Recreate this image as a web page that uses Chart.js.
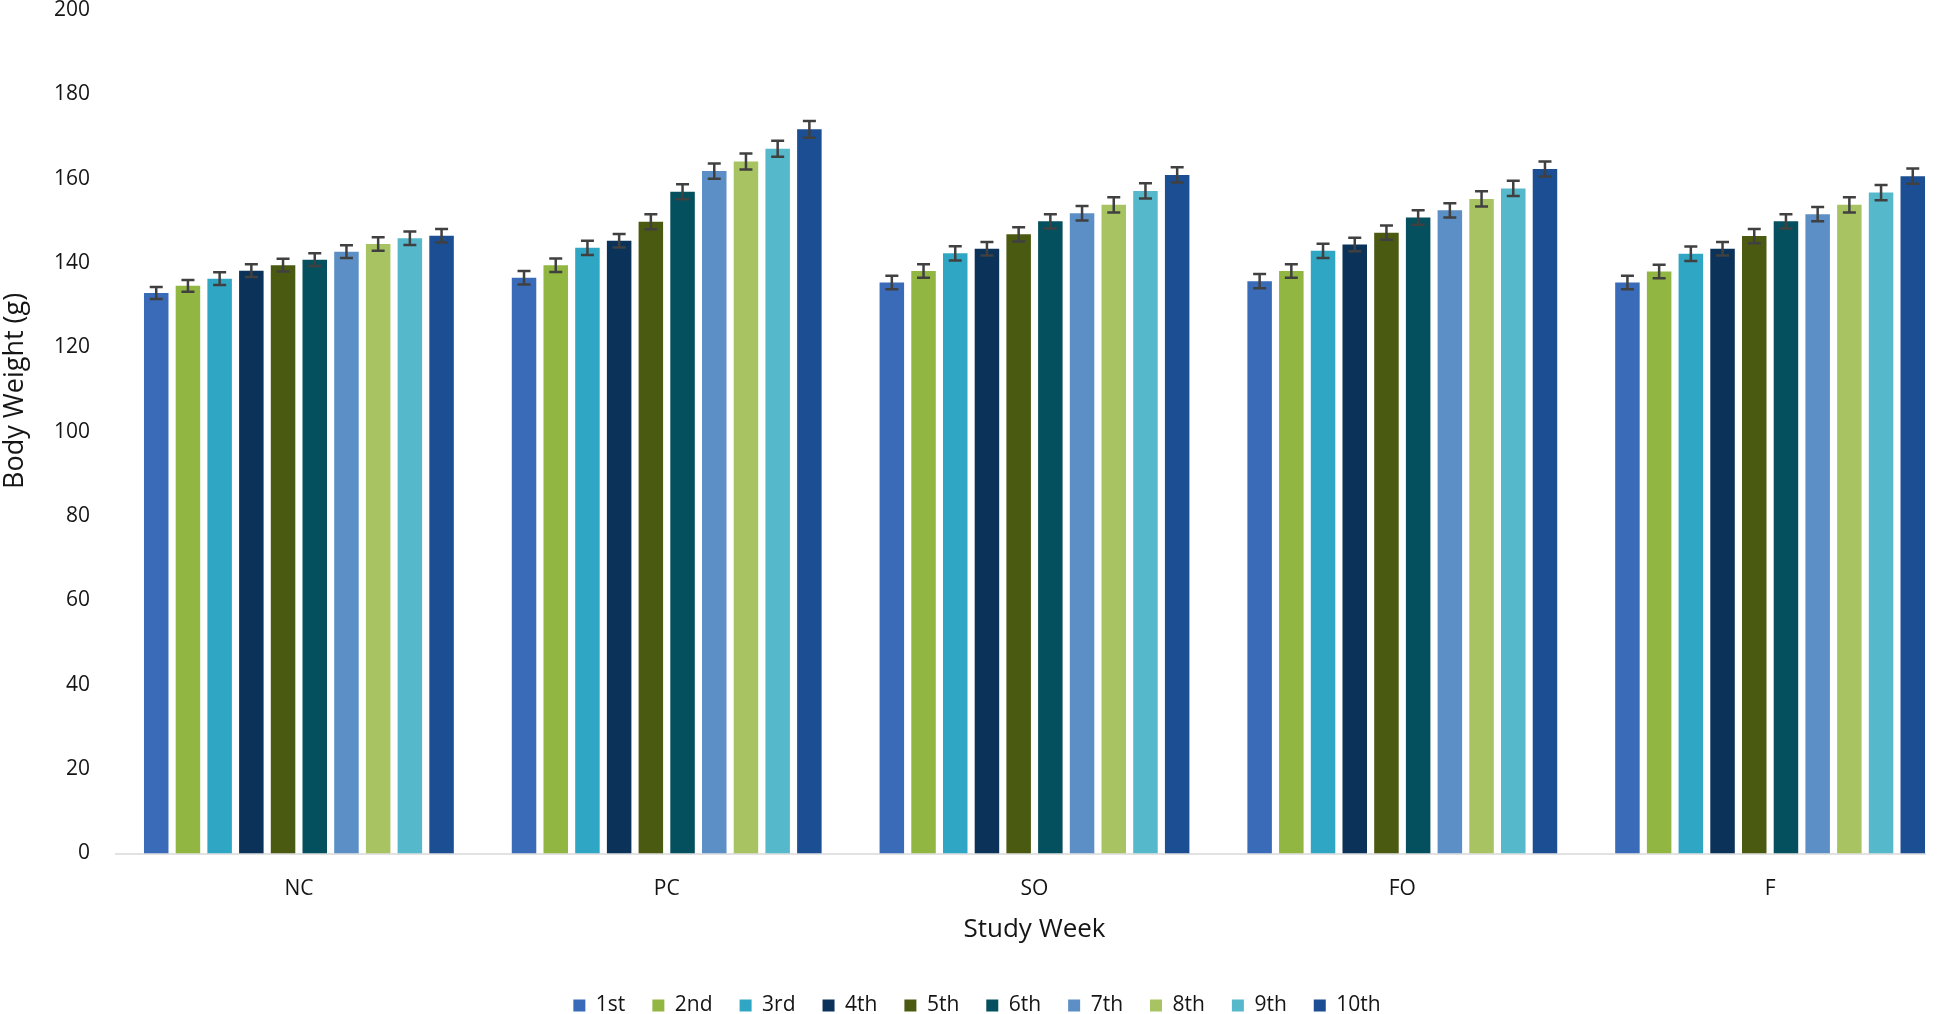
<!DOCTYPE html>
<html>
<head>
<meta charset="utf-8">
<script src="https://cdn.jsdelivr.net/npm/chart.js@4/dist/chart.umd.min.js"></script>
<style>
  html, body { margin: 0; padding: 0; background: #ffffff; }
  #wrap { width: 1954px; height: 1014px; }
</style>
</head>
<body>
<div id="wrap"><canvas id="c" width="1954" height="1014"></canvas></div>
<script>
const groups = ["NC", "PC", "SO", "FO", "F"];
const weeks = ["1st", "2nd", "3rd", "4th", "5th", "6th", "7th", "8th", "9th", "10th"];
const yTicks = [0, 20, 40, 60, 80, 100, 120, 140, 160, 180, 200];
const xTitle = "Study Week";
const yTitle = "Body Weight (g)";

const w1  = [132.9, 136.5, 135.4, 135.7, 135.4];
const w2  = [134.6, 139.5, 138.1, 138.1, 138.0];
const w3  = [136.3, 143.6, 142.3, 142.9, 142.2];
const w4  = [138.2, 145.3, 143.4, 144.4, 143.4];
const w5  = [139.5, 149.8, 146.8, 147.2, 146.4];
const w6  = [140.8, 156.9, 149.9, 150.8, 149.9];
const w7  = [142.7, 161.8, 151.8, 152.5, 151.6];
const w8  = [144.5, 164.1, 153.8, 155.2, 153.8];
const w9  = [145.9, 167.1, 157.1, 157.7, 156.7];
const w10 = [146.5, 171.7, 160.9, 162.3, 160.6];

const e1  = [1.4, 1.6, 1.6, 1.7, 1.6];
const e2  = [1.4, 1.6, 1.6, 1.6, 1.6];
const e3  = [1.5, 1.7, 1.7, 1.7, 1.7];
const e4  = [1.5, 1.6, 1.6, 1.6, 1.6];
const e5  = [1.5, 1.8, 1.7, 1.7, 1.7];
const e6  = [1.5, 1.8, 1.7, 1.7, 1.7];
const e7  = [1.5, 1.8, 1.7, 1.7, 1.7];
const e8  = [1.6, 1.9, 1.8, 1.8, 1.8];
const e9  = [1.6, 1.9, 1.8, 1.8, 1.8];
const e10 = [1.6, 2.0, 1.8, 1.8, 1.8];

const colors = ["#3A6BB8", "#92B642", "#2FA6C3", "#0B3259", "#4A5A10",
                "#05505E", "#5B8FC6", "#A8C462", "#55B9CB", "#1B4E92"];

const values = [w1, w2, w3, w4, w5, w6, w7, w8, w9, w10];
const errors = [e1, e2, e3, e4, e5, e6, e7, e8, e9, e10];

const datasets = weeks.map((w, i) => ({
  label: w,
  data: values[i],
  errors: errors[i],
  backgroundColor: colors[i],
  borderWidth: 0,
  categoryPercentage: 0.862,
  barPercentage: 0.773
}));

const FONT = "'Open Sans', 'Noto Sans', sans-serif";
const TXT = '#151515';

const extras = {
  id: 'extras',
  beforeDatasetsDraw(chart) {
    // x axis line, from the axis start to the right edge of the last bar
    const ctx = chart.ctx;
    const xs = chart.scales.x, ys = chart.scales.y;
    const lastMeta = chart.getDatasetMeta(chart.data.datasets.length - 1);
    const lastBar = lastMeta.data[lastMeta.data.length - 1];
    const xEnd = lastBar.x + lastBar.width / 2 + 1;
    const y0 = ys.getPixelForValue(0);
    ctx.save();
    ctx.strokeStyle = '#d9d9d9';
    ctx.lineWidth = 1.5;
    ctx.beginPath();
    ctx.moveTo(xs.left, y0 + 0.5);
    ctx.lineTo(xEnd, y0 + 0.5);
    ctx.stroke();
    ctx.restore();
  },
  afterDatasetsDraw(chart) {
    const ctx = chart.ctx;
    const ys = chart.scales.y;
    ctx.save();
    ctx.strokeStyle = '#404040';
    ctx.lineWidth = 2.5;
    chart.data.datasets.forEach((ds, i) => {
      const meta = chart.getDatasetMeta(i);
      if (meta.hidden) return;
      meta.data.forEach((bar, j) => {
        const v = ds.data[j], e = ds.errors[j];
        const x = bar.x;
        const yt = ys.getPixelForValue(v + e);
        const yb = ys.getPixelForValue(v - e);
        const cap = 6.5;
        ctx.beginPath();
        ctx.moveTo(x, yt); ctx.lineTo(x, yb);
        ctx.moveTo(x - cap, yt); ctx.lineTo(x + cap, yt);
        ctx.moveTo(x - cap, yb); ctx.lineTo(x + cap, yb);
        ctx.stroke();
      });
    });
    ctx.restore();
  },
  afterDraw(chart) {
    // y axis title (placed like the original, slightly above the plot centre)
    const ctx = chart.ctx;
    const ys = chart.scales.y;
    ctx.save();
    ctx.translate(15, ys.getPixelForValue(109.7));
    ctx.rotate(-Math.PI / 2);
    ctx.font = "27px " + FONT;
    ctx.fillStyle = TXT;
    ctx.textAlign = 'center';
    ctx.textBaseline = 'middle';
    ctx.fillText(yTitle, 0, 0);
    ctx.restore();
  }
};

new Chart(document.getElementById('c'), {
  type: 'bar',
  data: { labels: groups, datasets },
  plugins: [extras],
  options: {
    responsive: false,
    animation: false,
    devicePixelRatio: 1,
    layout: { padding: { left: 0, right: 0, top: 10, bottom: -12 } },
    plugins: {
      tooltip: { enabled: false },
      legend: {
        position: 'bottom',
        labels: {
          font: { family: FONT, size: 21 },
          color: TXT,
          boxWidth: 12,
          boxHeight: 12,
          padding: 27
        }
      }
    },
    scales: {
      x: {
        grid: { display: false, drawTicks: false },
        border: { display: false },
        ticks: { font: { family: FONT, size: 21 }, color: TXT, padding: 23 },
        title: {
          display: true, text: xTitle,
          font: { family: FONT, size: 26 }, color: TXT,
          padding: { top: 0, bottom: 23 }
        },
        afterFit(s) { s.height = 114.5; }
      },
      y: {
        min: 0, max: 200,
        afterBuildTicks(s) { s.ticks = yTicks.map(v => ({ value: v })); },
        grid: { display: false, drawTicks: false },
        border: { display: false },
        ticks: { font: { family: FONT, size: 21 }, color: TXT, padding: 25 },
        title: { display: false },
        afterFit(s) { s.width = 115; s.paddingTop = 0; s.paddingBottom = 0; }
      }
    }
  }
});
</script>
</body>
</html>
